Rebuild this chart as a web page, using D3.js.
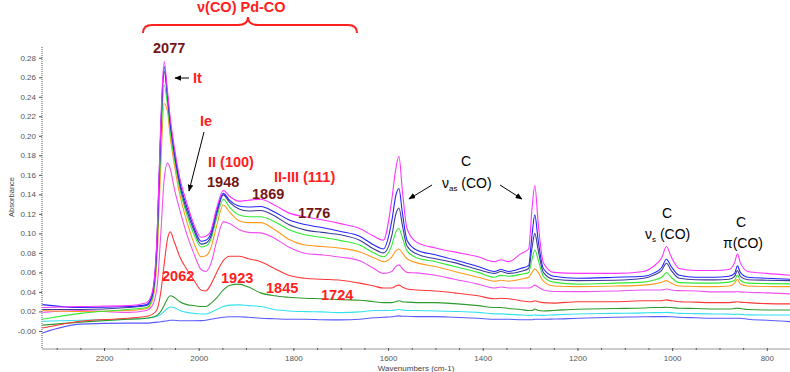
<!DOCTYPE html>
<html><head><meta charset="utf-8">
<script src="https://cdn.jsdelivr.net/npm/d3@7"></script>
<style>body{margin:0;background:#fff;} svg{display:block;font-family:"Liberation Sans",Arial,sans-serif;}</style>
</head><body><svg id="c" width="790" height="372"></svg>
<script>
// Wavenumbers (cm-1), shared by every spectrum
const wavenumbers = [
  2330, 2250, 2150, 2110, 2098, 2088, 2080, 2073, 2066, 2060,
  2052, 2040, 2025, 2010, 1995, 1985, 1975, 1962, 1948, 1935,
  1915, 1895, 1869, 1840, 1810, 1776, 1740, 1700, 1660, 1630,
  1610, 1592, 1584, 1577, 1570, 1560, 1540, 1500, 1460, 1410,
  1375, 1362, 1345, 1320, 1303, 1296, 1290, 1283, 1272, 1250,
  1200, 1120, 1060, 1040, 1022, 1012, 1002, 985, 950, 910,
  880, 868, 862, 856, 840, 800, 751];

const magentaTop = [
  0.024, 0.025, 0.026, 0.029, 0.040, 0.097, 0.215, 0.276, 0.246, 0.218,
  0.190, 0.157, 0.131, 0.109, 0.096, 0.097, 0.102, 0.126, 0.144, 0.138,
  0.133, 0.134, 0.135, 0.129, 0.121, 0.117, 0.114, 0.110, 0.105, 0.097,
  0.093, 0.135, 0.165, 0.179, 0.145, 0.105, 0.091, 0.085, 0.081, 0.076,
  0.071, 0.073, 0.071, 0.079, 0.084, 0.125, 0.149, 0.111, 0.070, 0.060,
  0.059, 0.059, 0.061, 0.066, 0.075, 0.0865, 0.076, 0.064, 0.062, 0.062,
  0.063, 0.070, 0.079, 0.070, 0.061, 0.059, 0.057];
const blue = [
  0.027, 0.024, 0.025, 0.027, 0.038, 0.094, 0.210, 0.271, 0.242, 0.214,
  0.186, 0.153, 0.127, 0.106, 0.092, 0.093, 0.099, 0.123, 0.141, 0.134,
  0.128, 0.127, 0.1275, 0.122, 0.114, 0.109, 0.106, 0.102, 0.097, 0.088,
  0.084, 0.113, 0.138, 0.146, 0.122, 0.093, 0.083, 0.078, 0.073, 0.066,
  0.061, 0.063, 0.061, 0.064, 0.067, 0.098, 0.119, 0.093, 0.064, 0.056,
  0.054, 0.055, 0.056, 0.059, 0.065, 0.0735, 0.066, 0.057, 0.055, 0.055,
  0.056, 0.059, 0.0667, 0.060, 0.055, 0.054, 0.053];
const navy = [
  0.022, 0.022, 0.024, 0.026, 0.036, 0.090, 0.205, 0.266, 0.240, 0.211,
  0.183, 0.150, 0.123, 0.103, 0.089, 0.090, 0.096, 0.120, 0.1395, 0.132,
  0.125, 0.123, 0.1234, 0.118, 0.109, 0.1036, 0.101, 0.0985, 0.093, 0.084,
  0.080, 0.098, 0.119, 0.126, 0.109, 0.087, 0.079, 0.074, 0.070, 0.063,
  0.059, 0.061, 0.059, 0.061, 0.064, 0.085, 0.100, 0.083, 0.060, 0.053,
  0.0516, 0.052, 0.054, 0.057, 0.062, 0.0694, 0.062, 0.054, 0.0525, 0.0523,
  0.053, 0.056, 0.0619, 0.056, 0.0525, 0.052, 0.0516];
const green = [
  0.012, 0.018, 0.022, 0.024, 0.033, 0.085, 0.190, 0.252, 0.232, 0.204,
  0.178, 0.146, 0.119, 0.099, 0.086, 0.087, 0.093, 0.116, 0.135, 0.127,
  0.119, 0.117, 0.117, 0.112, 0.104, 0.0985, 0.096, 0.0926, 0.088, 0.080,
  0.076, 0.088, 0.101, 0.105, 0.096, 0.082, 0.075, 0.071, 0.066, 0.060,
  0.055, 0.057, 0.056, 0.058, 0.060, 0.073, 0.083, 0.073, 0.056, 0.050,
  0.048, 0.049, 0.050, 0.052, 0.055, 0.0598, 0.055, 0.0495, 0.049, 0.049,
  0.050, 0.052, 0.0574, 0.052, 0.049, 0.0485, 0.0482];
const orange = [
  0.021, 0.020, 0.021, 0.023, 0.031, 0.075, 0.170, 0.233, 0.225, 0.198,
  0.172, 0.140, 0.112, 0.090, 0.076, 0.077, 0.084, 0.108, 0.129, 0.122,
  0.113, 0.111, 0.111, 0.104, 0.094, 0.088, 0.0865, 0.0848, 0.081, 0.075,
  0.071, 0.076, 0.082, 0.084, 0.080, 0.074, 0.070, 0.066, 0.061, 0.055,
  0.051, 0.052, 0.051, 0.053, 0.055, 0.060, 0.0636, 0.060, 0.051, 0.046,
  0.0454, 0.046, 0.047, 0.048, 0.050, 0.0516, 0.049, 0.046, 0.0455, 0.0454,
  0.046, 0.049, 0.053, 0.048, 0.046, 0.0455, 0.0454];
const magentaLow = [
  0.019, 0.021, 0.019, 0.021, 0.026, 0.045, 0.100, 0.155, 0.172, 0.166,
  0.147, 0.124, 0.099, 0.079, 0.063, 0.061, 0.068, 0.092, 0.112, 0.110,
  0.104, 0.101, 0.1005, 0.095, 0.086, 0.0797, 0.078, 0.0756, 0.072, 0.064,
  0.059, 0.061, 0.066, 0.0677, 0.064, 0.060, 0.0595, 0.057, 0.053, 0.048,
  0.044, 0.045, 0.044, 0.044, 0.044, 0.045, 0.047, 0.045, 0.042, 0.0405,
  0.0403, 0.041, 0.042, 0.042, 0.042, 0.043, 0.042, 0.0413, 0.041, 0.040,
  0.040, 0.040, 0.0405, 0.040, 0.0396, 0.039, 0.038];
const red = [
  0.003, 0.010, 0.013, 0.015, 0.017, 0.022, 0.040, 0.068, 0.094, 0.1015,
  0.092, 0.076, 0.063, 0.052, 0.042, 0.041, 0.047, 0.060, 0.072, 0.0765,
  0.0765, 0.074, 0.071, 0.064, 0.057, 0.054, 0.053, 0.052, 0.049, 0.046,
  0.044, 0.044, 0.046, 0.047, 0.045, 0.043, 0.042, 0.041, 0.039, 0.036,
  0.033, 0.0335, 0.033, 0.031, 0.030, 0.030, 0.031, 0.030, 0.029, 0.0285,
  0.030, 0.030, 0.031, 0.031, 0.031, 0.0318, 0.031, 0.030, 0.0295, 0.029,
  0.029, 0.0295, 0.030, 0.0295, 0.029, 0.028, 0.0277];
const darkGreen = [
  0.006, 0.009, 0.012, 0.013, 0.014, 0.016, 0.020, 0.026, 0.033, 0.036,
  0.0345, 0.030, 0.027, 0.026, 0.025, 0.025, 0.028, 0.034, 0.042, 0.0465,
  0.048, 0.045, 0.039, 0.036, 0.0345, 0.0335, 0.033, 0.032, 0.0315, 0.030,
  0.029, 0.029, 0.030, 0.031, 0.030, 0.0295, 0.029, 0.029, 0.028, 0.026,
  0.024, 0.024, 0.023, 0.022, 0.021, 0.021, 0.0225, 0.021, 0.0205, 0.021,
  0.0223, 0.023, 0.0235, 0.024, 0.024, 0.0243, 0.024, 0.0233, 0.023, 0.0225,
  0.0225, 0.023, 0.0233, 0.023, 0.022, 0.0215, 0.0215];
const cyan = [
  0.010, 0.011, 0.012, 0.013, 0.014, 0.015, 0.017, 0.020, 0.023, 0.0246,
  0.024, 0.021, 0.019, 0.018, 0.0174, 0.0174, 0.019, 0.022, 0.025, 0.0265,
  0.0267, 0.026, 0.025, 0.022, 0.0205, 0.0198, 0.0195, 0.0188, 0.0195, 0.021,
  0.021, 0.021, 0.0215, 0.022, 0.0215, 0.021, 0.021, 0.0205, 0.020, 0.019,
  0.0175, 0.0175, 0.017, 0.0165, 0.016, 0.016, 0.0165, 0.016, 0.016, 0.0165,
  0.0174, 0.018, 0.0185, 0.0188, 0.0188, 0.019, 0.0188, 0.018, 0.0178, 0.0174,
  0.0172, 0.017, 0.0172, 0.017, 0.0165, 0.0164, 0.0164];
const blueBottom = [
  -0.002, 0.007, 0.008, 0.008, 0.0085, 0.009, 0.0095, 0.010, 0.0105, 0.011,
  0.011, 0.0105, 0.0105, 0.0105, 0.0106, 0.011, 0.012, 0.013, 0.014, 0.0145,
  0.0145, 0.014, 0.013, 0.0125, 0.012, 0.012, 0.0115, 0.0113, 0.012, 0.0135,
  0.014, 0.0145, 0.015, 0.0154, 0.015, 0.015, 0.0147, 0.0147, 0.014, 0.013,
  0.012, 0.012, 0.012, 0.0115, 0.0115, 0.0115, 0.012, 0.012, 0.012, 0.0122,
  0.013, 0.014, 0.0145, 0.0147, 0.0147, 0.0147, 0.0145, 0.014, 0.0135, 0.013,
  0.013, 0.013, 0.013, 0.013, 0.012, 0.011, 0.0096];

const seriesList = [blueBottom, cyan, darkGreen, red, magentaLow, orange, green, navy, blue, magentaTop];
const seriesColors = ["#5a5aff", "#33e2ee", "#2e9a2e", "#ff3838", "#f050f0", "#ff9a1f", "#33ea33", "#3c3c96", "#2424ff", "#ff33ff"];

const yTicks = [0, 0.02, 0.04, 0.06, 0.08, 0.10, 0.12, 0.14, 0.16, 0.18, 0.20, 0.22, 0.24, 0.26, 0.28];
const xMinorTicks = [2300, 2250, 2200, 2150, 2100, 2050, 2000, 1950, 1900, 1850, 1800, 1750, 1700, 1650, 1600, 1550,
  1500, 1450, 1400, 1350, 1300, 1250, 1200, 1150, 1100, 1050, 1000, 950, 900, 850, 800];
const xLabels = [2200, 2000, 1800, 1600, 1400, 1200, 1000, 800];

const svg = d3.select("#c");
const L = 42, R = 790, T = 47, B = 349;
const x = d3.scaleLinear().domain([2331, 751]).range([L, R]);
const y = d3.scaleLinear().domain([-0.0185, 0.291]).range([B, T]);

svg.append("defs").append("clipPath").attr("id", "plot")
  .append("rect").attr("x", L).attr("y", 0).attr("width", R - L).attr("height", B);
const defs = svg.select("defs");
defs.append("marker").attr("id", "ah").attr("viewBox", "0 0 10 10").attr("refX", 9).attr("refY", 5)
  .attr("markerWidth", 7).attr("markerHeight", 7).attr("orient", "auto-start-reverse")
  .append("path").attr("d", "M0,1 L10,5 L0,9 Z").attr("fill", "#000");

// X axis
const xAxis = svg.append("g").attr("transform", `translate(0,${B})`)
  .call(d3.axisBottom(x).tickValues(xMinorTicks).tickSize(2)
    .tickFormat(d => xLabels.includes(d) ? d : ""));
xAxis.select(".domain").attr("stroke", "#999").attr("d", `M${L},0H${R}`);
xAxis.selectAll(".tick line").attr("stroke", "#555").attr("y1", -1).attr("y2", d => xLabels.includes(d) ? 2 : 1);
xAxis.selectAll(".tick text").attr("fill", "#555").attr("font-size", 8).attr("dy", "0.85em")
  .attr("font-family", "Liberation Sans, Arial, sans-serif");

// Y axis
const yAxis = svg.append("g").attr("transform", `translate(${L},0)`)
  .call(d3.axisLeft(y).tickValues(yTicks).tickSize(3)
    .tickFormat(d => d === 0 ? "-0.00" : d3.format(".2f")(d)));
yAxis.select(".domain").attr("stroke", "#555").attr("stroke-dasharray", "1,1").attr("d", `M0,${T}V${B}`);
yAxis.selectAll(".tick line").attr("stroke", "#555");
yAxis.selectAll(".tick text").attr("fill", "#555").attr("font-size", 8).attr("x", -6)
  .attr("font-family", "Liberation Sans, Arial, sans-serif");

svg.append("text").attr("transform", "translate(14,197) rotate(-90)").attr("text-anchor", "middle")
  .attr("font-size", 7.5).attr("fill", "#444").text("Absorbance");
svg.append("text").attr("x", 416).attr("y", 371).attr("text-anchor", "middle")
  .attr("font-size", 8).attr("fill", "#444").text("Wavenumbers (cm-1)");

// Spectra
const line = d3.line().x((d, i) => x(wavenumbers[i])).y(d => y(d)).curve(d3.curveMonotoneX);
const g = svg.append("g").attr("clip-path", "url(#plot)");
seriesList.forEach((s, k) => {
  g.append("path").attr("d", line(s)).attr("fill", "none")
    .attr("stroke", seriesColors[k]).attr("stroke-width", 1.1);
});

// Annotations
const RED = "#ff2020", DRED = "#741616";
svg.append("path").attr("d", "M143,33 Q143,25 152,25 L238,25 Q248,25 248,17 Q248,25 258,25 L348,25 Q357,25 357,33")
  .attr("fill", "none").attr("stroke", RED).attr("stroke-width", 2);
const labels = [
  ["ν(CO) Pd-CO", 197, 12, RED], ["2077", 153, 53, DRED], ["It", 193, 83, RED], ["Ie", 200, 126, RED],
  ["II (100)", 208, 167, RED], ["1948", 207, 187, DRED], ["II-III (111)", 274, 182, RED],
  ["1869", 252, 199, DRED], ["1776", 298, 218, DRED], ["2062", 162, 281, RED], ["1923", 221, 283, RED],
  ["1845", 266, 293, RED], ["1724", 321, 300, RED]];
labels.forEach(([t, lx, ly, c]) => {
  svg.append("text").attr("x", lx).attr("y", ly).attr("fill", c).attr("font-weight", "bold")
    .attr("font-size", 14.5).text(t);
});
function sub(lx, ly, main, s, rest) {
  const t = svg.append("text").attr("x", lx).attr("y", ly).attr("font-size", 14).attr("fill", "#000");
  t.append("tspan").text(main);
  t.append("tspan").attr("font-size", 8).attr("dy", 3).text(s);
  t.append("tspan").attr("dy", -3).text(rest);
}
const cText = [["C", 461, 166], ["C", 662, 218], ["C", 736, 227]];
cText.forEach(([t, lx, ly]) => svg.append("text").attr("x", lx).attr("y", ly).attr("font-size", 14).attr("fill", "#000").text(t));
sub(442, 188, "ν", "as", " (CO)");
sub(645, 239, "ν", "s", " (CO)");
svg.append("text").attr("x", 723).attr("y", 248).attr("font-size", 14).attr("fill", "#000").text("π(CO)");

const arrows = [[189, 78, 175, 78], [204, 132, 189, 191], [432, 185, 409, 199], [500, 185, 522, 199]];
arrows.forEach(([x1, y1, x2, y2]) => {
  svg.append("line").attr("x1", x1).attr("y1", y1).attr("x2", x2).attr("y2", y2)
    .attr("stroke", "#000").attr("stroke-width", 1).attr("marker-end", "url(#ah)");
});
</script></body></html>
